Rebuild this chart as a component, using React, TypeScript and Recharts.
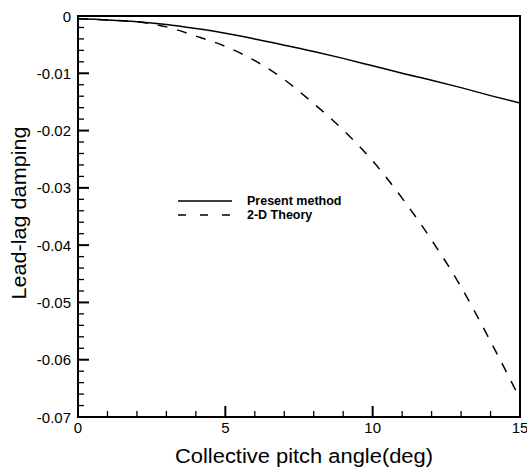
import React from 'react';
import {
  LineChart,
  Line,
  XAxis,
  YAxis,
  Legend,
  ReferenceArea,
} from 'recharts';

// collective pitch angle (deg)
const pitchAngles = [0, 1, 2, 3, 4, 5, 6, 7, 8, 9, 10, 11, 12, 13, 14, 15];

// lead-lag damping
const presentMethod = [
  -0.0005, -0.0007, -0.001, -0.0015, -0.0022, -0.003, -0.004, -0.0051,
  -0.0062, -0.0074, -0.0087, -0.01, -0.0112, -0.0125, -0.0139, -0.0152,
];
const theory2D = [
  -0.0005, -0.0007, -0.001, -0.0019, -0.0035, -0.0053, -0.0078, -0.0111,
  -0.0153, -0.0199, -0.0253, -0.0318, -0.0391, -0.0473, -0.0568, -0.0668,
];

const xTicks = [0, 1, 2, 3, 4, 5, 6, 7, 8, 9, 10, 11, 12, 13, 14, 15];
const yTicks = Array.from({ length: 36 }, (_, i) => -Math.round(i * 2) / 1000);

const legendItems = [
  { label: 'Present method', dash: undefined },
  { label: '2-D Theory', dash: '8 14' },
];

const chartData = pitchAngles.map((angle, i) => ({
  angle,
  present: presentMethod[i],
  theory: theory2D[i],
}));

const FONT = '"Liberation Sans", Arial, Helvetica, sans-serif';

const XTick = ({ x, y, payload }: any) => {
  const major = payload.value % 5 === 0;
  return (
    <g>
      <line
        x1={x}
        y1={y}
        x2={x}
        y2={y - (major ? 11 : 6)}
        stroke="#000"
        strokeWidth={major ? 2 : 1.3}
      />
      {major && (
        <text x={x} y={y + 16} textAnchor="middle" fontSize={15} fontFamily={FONT} fill="#000">
          {payload.value}
        </text>
      )}
    </g>
  );
};

const YTick = ({ x, y, payload }: any) => {
  const v = payload.value;
  const major = Math.abs(v * 100 - Math.round(v * 100)) < 1e-6;
  return (
    <g>
      <line
        x1={x}
        y1={y}
        x2={x + (major ? 11 : 6)}
        y2={y}
        stroke="#000"
        strokeWidth={major ? 2 : 1.3}
      />
      {major && (
        <text x={x - 7} y={y + 5.5} textAnchor="end" fontSize={15} fontFamily={FONT} fill="#000">
          {Math.abs(v) < 1e-9 ? '0' : v.toFixed(2)}
        </text>
      )}
    </g>
  );
};

const renderLegend = () => (
  <div style={{ fontFamily: FONT, fontWeight: 'bold', fontSize: 12.5, color: '#000' }}>
    {legendItems.map((item) => (
      <div key={item.label} style={{ display: 'flex', alignItems: 'center', height: 14.3 }}>
        <svg width={54} height={14} style={{ display: 'block' }}>
          <line x1={0} y1={7} x2={54} y2={7} stroke="#000" strokeWidth={1.5} strokeDasharray={item.dash} />
        </svg>
        <span style={{ marginLeft: 15, lineHeight: '14px' }}>{item.label}</span>
      </div>
    ))}
  </div>
);

const App = () => {
  return (
    <div style={{ position: 'absolute', left: 0, top: 0, width: 527, height: 467, background: '#fff' }}>
      <LineChart
        width={527}
        height={467}
        data={chartData}
        margin={{ top: 16, right: 7, left: 0, bottom: 0 }}
      >
        <XAxis
          dataKey="angle"
          type="number"
          domain={[0, 15]}
          ticks={xTicks}
          interval={0}
          height={50}
          tickSize={0}
          tickMargin={0}
          tickLine={false}
          tick={<XTick />}
          axisLine={{ stroke: '#000', strokeWidth: 2 }}
          label={{
            content: () => (
              <text
                x={304}
                y={463}
                textAnchor="middle"
                fontSize={20}
                fontFamily={FONT}
                textLength={258}
                lengthAdjust="spacingAndGlyphs"
                fill="#000"
              >
                Collective pitch angle(deg)
              </text>
            ),
          }}
        />
        <YAxis
          type="number"
          domain={[-0.07, 0]}
          ticks={yTicks}
          interval={0}
          width={78}
          tickSize={0}
          tickMargin={0}
          tickLine={false}
          tick={<YTick />}
          axisLine={{ stroke: '#000', strokeWidth: 2 }}
          label={{
            content: () => (
              <text
                x={0}
                y={0}
                transform="translate(26,213) rotate(-90)"
                textAnchor="middle"
                fontSize={20}
                fontFamily={FONT}
                textLength={173}
                lengthAdjust="spacingAndGlyphs"
                fill="#000"
              >
                Lead-lag damping
              </text>
            ),
          }}
        />
        <ReferenceArea
          x1={0}
          x2={15}
          y1={-0.07}
          y2={0}
          fill="none"
          stroke="#000"
          strokeWidth={2}
        />
        <Legend
          layout="vertical"
          align="center"
          verticalAlign="middle"
          content={renderLegend}
          wrapperStyle={{ left: 178, top: 193.5, width: 200 }}
        />
        <Line
          type="monotone"
          dataKey="present"
          name="Present method"
          stroke="#000"
          strokeWidth={1.5}
          dot={false}
          isAnimationActive={false}
        />
        <Line
          type="monotone"
          dataKey="theory"
          name="2-D Theory"
          stroke="#000"
          strokeWidth={1.5}
          strokeDasharray="10 10"
          dot={false}
          isAnimationActive={false}
        />
      </LineChart>
    </div>
  );
};

export default App;
